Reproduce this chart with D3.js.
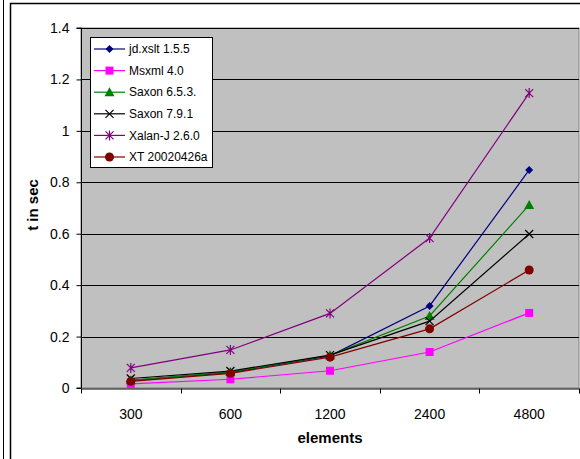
<!DOCTYPE html>
<html>
<head>
<meta charset="utf-8">
<script src="https://cdn.jsdelivr.net/npm/d3@7"></script>
<style>
  body { margin: 0; background: #fff; }
  svg { display: block; font-family: "Liberation Sans", Arial, sans-serif; }
</style>
</head>
<body>
<div id="chart"></div>
<script>
// categories (number of elements)
const categories = ["300", "600", "1200", "2400", "4800"];

// series values (t in sec)
const jdXslt   = [0.030, 0.060, 0.125, 0.319, 0.848];
const msxml    = [0.016, 0.034, 0.067, 0.140, 0.292];
const saxon653 = [0.030, 0.062, 0.127, 0.280, 0.712];
const saxon791 = [0.037, 0.066, 0.128, 0.260, 0.599];
const xalanJ   = [0.078, 0.148, 0.290, 0.583, 1.147];
const xt       = [0.026, 0.057, 0.120, 0.230, 0.459];

const seriesNames = ["jd.xslt 1.5.5", "Msxml 4.0", "Saxon 6.5.3.", "Saxon 7.9.1", "Xalan-J 2.6.0", "XT 20020426a"];
const yTicks = [0, 0.2, 0.4, 0.6, 0.8, 1, 1.2, 1.4];

const series = [
  { name: seriesNames[0], values: jdXslt,   color: "#000080", marker: "diamond" },
  { name: seriesNames[1], values: msxml,    color: "#ff00ff", marker: "square" },
  { name: seriesNames[2], values: saxon653, color: "#008000", marker: "triangle" },
  { name: seriesNames[3], values: saxon791, color: "#000000", marker: "x" },
  { name: seriesNames[4], values: xalanJ,   color: "#800080", marker: "star" },
  { name: seriesNames[5], values: xt,       color: "#800000", marker: "circle" }
];

const W = 580, H = 459;
const plot = { left: 81, right: 579, top: 28, bottom: 388 };

const svg = d3.select("#chart").append("svg")
  .attr("width", W)
  .attr("height", H);

// outer frames (chart is cut from a bigger sheet)
svg.append("line").attr("x1", 3.5).attr("x2", 3.5).attr("y1", 0).attr("y2", H)
  .attr("stroke", "#000").attr("stroke-width", 1);
svg.append("rect").attr("x", 10.5).attr("y", 3.5).attr("width", 600).attr("height", 600)
  .attr("fill", "#fff").attr("stroke", "#000").attr("stroke-width", 1.5);

const x = d3.scaleBand().domain(categories).range([plot.left, plot.right]);
const y = d3.scaleLinear().domain([0, 1.4]).range([plot.bottom, plot.top]);

// plot area
svg.append("rect")
  .attr("x", plot.left).attr("y", plot.top)
  .attr("width", plot.right - plot.left).attr("height", plot.bottom - plot.top)
  .attr("fill", "#c0c0c0").attr("stroke", "#808080").attr("stroke-width", 1);

// gridlines
svg.append("g").selectAll("line")
  .data(yTicks.filter(d => d > 0))
  .join("line")
  .attr("x1", plot.left).attr("x2", plot.right)
  .attr("y1", d => Math.round(y(d)) + 0.5).attr("y2", d => Math.round(y(d)) + 0.5)
  .attr("stroke", "#000").attr("stroke-width", 1);

// y axis
const yAxis = svg.append("g")
  .attr("transform", `translate(${plot.left + 0.5},0)`)
  .call(d3.axisLeft(y).tickValues(yTicks).tickFormat(d3.format("")).tickSize(5).tickPadding(7));
yAxis.selectAll("text").attr("font-size", 14).attr("fill", "#000").attr("font-family", "Liberation Sans, Arial, sans-serif");
yAxis.selectAll("line,path").attr("stroke", "#000");
yAxis.select(".domain").attr("d", `M-5,${plot.top}H0V${plot.bottom}H-5`);

// x axis: ticks at band boundaries
const xAxis = svg.append("g")
  .attr("transform", `translate(0,${plot.bottom + 0.5})`)
  .call(d3.axisBottom(x).tickSize(0).tickPadding(21));
xAxis.selectAll("text").attr("font-size", 14).attr("fill", "#000").attr("font-family", "Liberation Sans, Arial, sans-serif");
xAxis.select(".domain").attr("stroke", "#000");
xAxis.append("g").selectAll("line")
  .data(categories.concat(["end"]))
  .join("line")
  .attr("x1", (d, i) => Math.round(plot.left + i * x.step()) + 0.5)
  .attr("x2", (d, i) => Math.round(plot.left + i * x.step()) + 0.5)
  .attr("y1", 0).attr("y2", 5)
  .attr("stroke", "#000");

// axis titles
svg.append("text")
  .attr("x", (plot.left + plot.right) / 2).attr("y", 443)
  .attr("text-anchor", "middle").attr("font-size", 15).attr("font-weight", "bold")
  .text("elements");
svg.append("text")
  .attr("transform", "translate(38,205) rotate(-90)")
  .attr("text-anchor", "middle").attr("font-size", 15).attr("font-weight", "bold")
  .text("t in sec");

function drawMarker(g, type, color) {
  if (type === "diamond") {
    g.append("path").attr("d", "M0,-4L4,0L0,4L-4,0Z").attr("fill", color);
  } else if (type === "square") {
    g.append("rect").attr("x", -4).attr("y", -4).attr("width", 8).attr("height", 8).attr("fill", color);
  } else if (type === "triangle") {
    g.append("path").attr("d", "M0,-5L5,4H-5Z").attr("fill", color);
  } else if (type === "x") {
    g.append("path").attr("d", "M-4,-4L4,4M-4,4L4,-4").attr("stroke", color).attr("stroke-width", 1.2);
  } else if (type === "star") {
    g.append("path").attr("d", "M-4,-4L4,4M-4,4L4,-4M0,-5V5").attr("stroke", color).attr("stroke-width", 1.2);
  } else if (type === "circle") {
    g.append("circle").attr("r", 4.5).attr("fill", color);
  }
}

const line = d3.line()
  .x((d, i) => x(categories[i]) + x.bandwidth() / 2)
  .y(d => y(d));

// lines
series.forEach(s => {
  svg.append("path")
    .attr("d", line(s.values))
    .attr("fill", "none")
    .attr("stroke", s.color)
    .attr("stroke-width", 1.2);
});
// markers
series.forEach(s => {
  s.values.forEach((v, i) => {
    const g = svg.append("g")
      .attr("transform", `translate(${x(categories[i]) + x.bandwidth() / 2},${y(v)})`);
    drawMarker(g, s.marker, s.color);
  });
});

// legend
const legend = svg.append("g");
legend.append("rect")
  .attr("x", 90.5).attr("y", 37.5).attr("width", 122).attr("height", 130)
  .attr("fill", "#fff").attr("stroke", "#000").attr("stroke-width", 1);
series.forEach((s, i) => {
  const cy = 49 + i * 21.6;
  const item = legend.append("g").attr("transform", `translate(0,${cy})`);
  item.append("line").attr("x1", 94).attr("x2", 125).attr("y1", 0).attr("y2", 0)
    .attr("stroke", s.color).attr("stroke-width", 1.2);
  drawMarker(item.append("g").attr("transform", "translate(109.5,0)"), s.marker, s.color);
  item.append("text").attr("x", 129).attr("y", 0).attr("dy", "0.35em")
    .attr("font-size", 12).attr("fill", "#000").text(s.name);
});
</script>
</body>
</html>
